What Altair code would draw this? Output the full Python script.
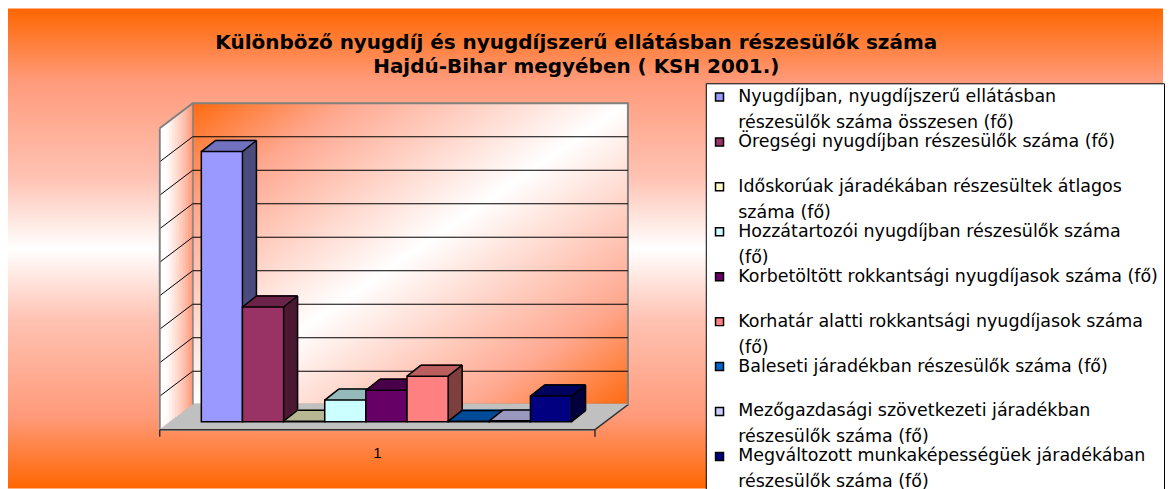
import altair as alt
import pandas as pd

# ---------------- data ----------------
category = "1"
series = [
    "Nyugdíjban, nyugdíjszerű ellátásban részesülők száma összesen (fő)",
    "Öregségi nyugdíjban részesülők száma (fő)",
    "Időskorúak járadékában részesültek átlagos száma (fő)",
    "Hozzátartozói nyugdíjban részesülők száma (fő)",
    "Korbetöltött rokkantsági nyugdíjasok száma (fő)",
    "Korhatár alatti rokkantsági nyugdíjasok száma (fő)",
    "Baleseti járadékban részesülők száma (fő)",
    "Mezőgazdasági szövetkezeti járadékban részesülők száma (fő)",
    "Megváltozott munkaképességüek járadékában részesülők száma (fő)",
]
legend_lines = [
    ["Nyugdíjban, nyugdíjszerű ellátásban", "részesülők száma összesen (fő)"],
    ["Öregségi nyugdíjban részesülők száma (fő)", " "],
    ["Időskorúak járadékában részesültek átlagos", "száma (fő)"],
    ["Hozzátartozói nyugdíjban részesülők száma", "(fő)"],
    ["Korbetöltött rokkantsági nyugdíjasok száma (fő)", " "],
    ["Korhatár alatti rokkantsági nyugdíjasok száma", "(fő)"],
    ["Baleseti járadékban részesülők száma (fő)", " "],
    ["Mezőgazdasági szövetkezeti járadékban", "részesülők száma (fő)"],
    ["Megváltozott munkaképességüek járadékában", "részesülők száma (fő)"],
]
values = [161300, 68500, 300, 12900, 18800, 27200, 200, 500, 15300]
y_ticks = [0, 20000, 40000, 60000, 80000, 100000, 120000, 140000, 160000, 180000]
title_lines = [
    "Különböző nyugdíj és nyugdíjszerű ellátásban részesülők száma",
    "Hajdú-Bihar megyében ( KSH 2001.)",
]

# ---------------- style ----------------
front_colors = ["#9999FF", "#993366", "#FFFFCC", "#CCFFFF", "#660066",
                "#FF8080", "#0066CC", "#CCCCFF", "#000080"]


def shade(hex_color, f):
    h = hex_color.lstrip("#")
    r, g, b = (int(h[i:i + 2], 16) for i in (0, 2, 4))
    return "#%02X%02X%02X" % (int(r * f), int(g * f), int(b * f))


def mix(c1, c2, t):
    a = [int(c1.lstrip("#")[i:i + 2], 16) for i in (0, 2, 4)]
    b = [int(c2.lstrip("#")[i:i + 2], 16) for i in (0, 2, 4)]
    return "#%02X%02X%02X" % tuple(int(round(x + (y - x) * t)) for x, y in zip(a, b))


W, H = 436, 302
XL, XU = 0.29, 10.87
YMAX = y_ticks[-1]
FRONT = 17              # front plane of the bars, px below the back wall base
DEPTH_X, DEPTH_Y = 14, -11
WALL_X, WALL_Y = -33, 25
NSTEP = 11

xs = alt.Scale(domain=[XL, XU], nice=False, zero=False)
ys = alt.Scale(domain=[0, YMAX], nice=False, zero=False)

df = pd.DataFrame({
    "i": list(range(1, len(series) + 1)),
    "series": series,
    "v": values,
    "color": front_colors,
    "top": [shade(c, 0.75) for c in front_colors],
    "side": [shade(c, 0.5) for c in front_colors],
})
df["x0"] = df["i"] - 0.5
df["x1"] = df["i"] + 0.5
df["zero"] = 0
df["cat"] = category

ticks_df = pd.DataFrame({"t": y_ticks[1:-1]})

bg_grad = {"gradient": "linear", "x1": 0, "y1": 0, "x2": 0, "y2": 1,
           "stops": [{"offset": 0.0, "color": "#FF6600"},
                     {"offset": 0.15, "color": "#FF9A7A"},
                     {"offset": 0.35, "color": "#FFC2B2"},
                     {"offset": 0.5, "color": "#FFFFFF"},
                     {"offset": 0.65, "color": "#FFC2B2"},
                     {"offset": 0.85, "color": "#FF9A7A"},
                     {"offset": 1.0, "color": "#FF6600"}]}
wall_grad = {"gradient": "linear", "x1": 0, "y1": 0, "x2": 1, "y2": 1,
             "stops": [{"offset": 0.0, "color": "#FF6A10"},
                       {"offset": 0.18, "color": "#FFA890"},
                       {"offset": 0.5, "color": "#FFFFFF"},
                       {"offset": 0.82, "color": "#FFA890"},
                       {"offset": 1.0, "color": "#FF6A10"}]}

one = "datum.i == 1"
layers = []

# background of the whole chart
layers.append(alt.Chart().mark_rect(fill=bg_grad).encode(
    x=alt.value(-185), x2=alt.value(972), y=alt.value(-95), y2=alt.value(386)
).transform_filter(one))

# back wall
layers.append(alt.Chart().mark_rect(fill=wall_grad, stroke="#808080", strokeWidth=2).encode(
    x=alt.XDatum(XL, scale=xs, axis=None), x2=alt.X2Datum(XU),
    y=alt.YDatum(0, scale=ys, axis=None), y2=alt.Y2Datum(YMAX)
).transform_filter(one))

# back wall grid
layers.append(alt.Chart(ticks_df).mark_rule(color="black", strokeWidth=1).encode(
    x=alt.XDatum(XL, scale=xs, axis=None), x2=alt.X2Datum(XU),
    y=alt.Y("t:Q", scale=ys, axis=None), y2="t:Q"))

# left side wall
M_WALL = 22
for k in range(1, M_WALL + 1):
    t = k / M_WALL
    col = mix("#FF8A66", "#FFFFFF", min(1.0, t ** 0.7 * 1.15))
    ox, oy = WALL_X * t, WALL_Y * t
    layers.append(alt.Chart().mark_rule(color=col, strokeWidth=2,
                                        xOffset=ox, x2Offset=ox, yOffset=oy, y2Offset=oy).encode(
        x=alt.XDatum(XL, scale=xs, axis=None), x2=alt.X2Datum(XL),
        y=alt.YDatum(0, scale=ys, axis=None), y2=alt.Y2Datum(YMAX)).transform_filter(one))

layers.append(alt.Chart(ticks_df).mark_rule(color="black", strokeWidth=1,
                                            x2Offset=WALL_X, y2Offset=WALL_Y).encode(
    x=alt.XDatum(XL, scale=xs, axis=None), x2=alt.X2Datum(XL),
    y=alt.Y("t:Q", scale=ys, axis=None), y2="t:Q"))
# left wall borders
layers.append(alt.Chart().mark_rule(color="#808080", strokeWidth=2,
                                    xOffset=WALL_X, x2Offset=WALL_X, yOffset=WALL_Y, y2Offset=WALL_Y).encode(
    x=alt.XDatum(XL, scale=xs, axis=None), x2=alt.X2Datum(XL),
    y=alt.YDatum(0, scale=ys, axis=None), y2=alt.Y2Datum(YMAX)).transform_filter(one))
layers.append(alt.Chart().mark_rule(color="#808080", strokeWidth=2,
                                    x2Offset=WALL_X, y2Offset=WALL_Y).encode(
    x=alt.XDatum(XL, scale=xs, axis=None), x2=alt.X2Datum(XL),
    y=alt.YDatum(YMAX, scale=ys, axis=None), y2=alt.Y2Datum(YMAX)).transform_filter(one))

# floor
M_FLOOR = 17
for k in range(0, M_FLOOR + 1):
    t = k / M_FLOOR
    ox, oy = WALL_X * t, WALL_Y * t
    layers.append(alt.Chart().mark_rule(color="#C0C0C0", strokeWidth=2.2,
                                        xOffset=ox, x2Offset=ox, yOffset=oy, y2Offset=oy).encode(
        x=alt.XDatum(XL, scale=xs, axis=None), x2=alt.X2Datum(XU),
        y=alt.YDatum(0, scale=ys, axis=None), y2=alt.Y2Datum(0)).transform_filter(one))
layers.append(alt.Chart().mark_rule(color="#303030", strokeWidth=1.5,
                                    xOffset=WALL_X, x2Offset=WALL_X, yOffset=WALL_Y, y2Offset=WALL_Y).encode(
    x=alt.XDatum(XL, scale=xs, axis=None), x2=alt.X2Datum(XU),
    y=alt.YDatum(0, scale=ys, axis=None), y2=alt.Y2Datum(0)).transform_filter(one))
layers.append(alt.Chart().mark_rule(color="#303030", strokeWidth=1.5,
                                    x2Offset=WALL_X, y2Offset=WALL_Y).encode(
    x=alt.XDatum(XU, scale=xs, axis=None), x2=alt.X2Datum(XU),
    y=alt.YDatum(0, scale=ys, axis=None), y2=alt.Y2Datum(0)).transform_filter(one))
for xd in (XL, XU):
    layers.append(alt.Chart().mark_rule(color="#303030", strokeWidth=1.5,
                                        xOffset=WALL_X, x2Offset=WALL_X,
                                        yOffset=WALL_Y, y2Offset=WALL_Y + 7).encode(
        x=alt.XDatum(xd, scale=xs, axis=None), x2=alt.X2Datum(xd),
        y=alt.YDatum(0, scale=ys, axis=None), y2=alt.Y2Datum(0)).transform_filter(one))

# category label under the floor
layers.append(alt.Chart().mark_text(font="Liberation Sans", fontSize=15, color="black",
                                    align="center", baseline="alphabetic",
                                    xOffset=WALL_X, yOffset=WALL_Y + 28).encode(
    x=alt.XDatum((XL + XU) / 2, scale=xs, axis=None),
    y=alt.YDatum(0, scale=ys, axis=None),
    text="cat:N").transform_filter(one))

# legend labels (wrapped as in the original)
expr = "''"
for name, lines in reversed(list(zip(series, legend_lines))):
    expr = "datum.label == '%s' ? ['%s', '%s'] : %s" % (name, lines[0], lines[1], expr)

legend = alt.Legend(title=None, orient="none", legendX=514, legendY=-20, labelExpr=expr,
                    fillColor="white", strokeColor="black", padding=5,
                    labelFont="DejaVu Sans", labelFontSize=17.5, labelColor="black",
                    labelLimit=900, symbolType="square", symbolSize=64,
                    symbolStrokeColor="black", symbolStrokeWidth=1.5,
                    rowPadding=0, labelOffset=10, symbolOffset=0)

color_scale = alt.Scale(domain=series, range=front_colors)

# bars, drawn one by one from left to right
for i in range(1, len(series) + 1):
    f = "datum.i == %d" % i
    for k in range(NSTEP, 0, -1):
        ox = DEPTH_X * k / NSTEP
        oy = FRONT + DEPTH_Y * k / NSTEP
        layers.append(alt.Chart().mark_bar(xOffset=ox, x2Offset=ox, yOffset=oy, y2Offset=oy,
                                           strokeWidth=0.8).encode(
            x=alt.X("x0:Q", scale=xs, axis=None), x2="x1:Q",
            y=alt.Y("v:Q", scale=ys, axis=None), y2="zero:Q",
            fill=alt.Fill("side:N", scale=None), stroke=alt.Stroke("side:N", scale=None)
        ).transform_filter(f))
        layers.append(alt.Chart().mark_rule(xOffset=ox, x2Offset=ox, yOffset=oy, y2Offset=oy,
                                            strokeWidth=1.6).encode(
            x=alt.X("x0:Q", scale=xs, axis=None), x2="x1:Q",
            y=alt.Y("v:Q", scale=ys, axis=None), y2="v:Q",
            color=alt.Color("top:N", scale=None)
        ).transform_filter(f))
    layers.append(alt.Chart().mark_bar(yOffset=FRONT, y2Offset=FRONT, stroke="black",
                                       strokeWidth=1.5).encode(
        x=alt.X("x0:Q", scale=xs, axis=None), x2="x1:Q",
        y=alt.Y("v:Q", scale=ys, axis=None), y2="zero:Q",
        fill=alt.Fill("series:N", scale=color_scale, legend=legend, sort=series)
    ).transform_filter(f))
    edge = dict(color="black", strokeWidth=1.5)
    back = FRONT + DEPTH_Y
    # top-left, top-right and bottom-right depth edges
    for xf, yf in (("x0", "v"), ("x1", "v"), ("x1", "zero")):
        layers.append(alt.Chart().mark_rule(yOffset=FRONT, x2Offset=DEPTH_X, y2Offset=back, **edge).encode(
            x=alt.X(xf + ":Q", scale=xs, axis=None), x2=xf + ":Q",
            y=alt.Y(yf + ":Q", scale=ys, axis=None), y2=yf + ":Q").transform_filter(f))
    # back top edge
    layers.append(alt.Chart().mark_rule(xOffset=DEPTH_X, x2Offset=DEPTH_X, yOffset=back, y2Offset=back, **edge).encode(
        x=alt.X("x0:Q", scale=xs, axis=None), x2="x1:Q",
        y=alt.Y("v:Q", scale=ys, axis=None), y2="v:Q").transform_filter(f))
    # back right edge
    layers.append(alt.Chart().mark_rule(xOffset=DEPTH_X, x2Offset=DEPTH_X, yOffset=back, y2Offset=back, **edge).encode(
        x=alt.X("x1:Q", scale=xs, axis=None), x2="x1:Q",
        y=alt.Y("v:Q", scale=ys, axis=None), y2="zero:Q").transform_filter(f))

chart = alt.layer(*layers, data=df).properties(
    width=W, height=H, padding=0,
    title=alt.TitleParams(text=title_lines, font="DejaVu Sans", fontSize=20, fontWeight="bold",
                          color="black", lineHeight=24, anchor="middle", frame="bounds",
                          dx=-10, dy=73),
).configure_view(stroke=None).configure(
    background="white",
    style={"guide-label": {"lineHeight": 26}},
)

chart.save("out.html", embed_options={"renderer": "svg", "actions": False})
